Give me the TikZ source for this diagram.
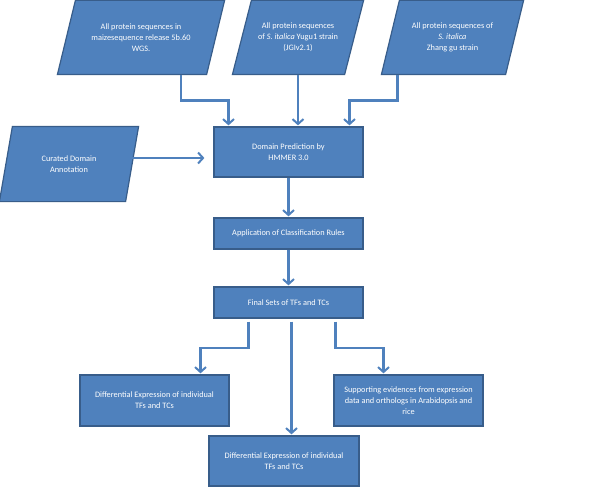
\documentclass[tikz,border=0pt]{standalone}
\usepackage{fontspec}
\setmainfont{Carlito}
\usetikzlibrary{arrows.meta,backgrounds}

\definecolor{boxblue}{HTML}{4F81BD}
\definecolor{boxedge}{HTML}{385D8A}

\tikzset{
  box/.style={rectangle, draw=boxedge, fill=boxblue, line width=1.2pt,
    text=white, align=center, inner sep=2pt, font=\fontsize{8.3}{11}\selectfont},
  inbox/.style={box, draw=none, fill=none},
  slantbox/.style={draw=boxedge, fill=boxblue, line width=1.2pt, line join=miter},
  arr/.style={draw=boxblue, line width=2.2pt, shorten >=1pt,
    -{Straight Barb[length=5pt,width=11pt,line width=2pt]}}
}

\begin{document}
\begin{tikzpicture}[x=1pt,y=-1pt]
            \useasboundingbox (0,0) rectangle (600,487);

            % Inputs (text only, the slanted shapes go on the background)
            \node[inbox, minimum width=148pt, minimum height=73pt] (maize) at (141,37.5)
                {All protein sequences in\\maizesequence release 5b.60\\WGS.};
            \node[inbox, minimum width=111pt, minimum height=73pt] (yugu) at (298,37.5)
                {All protein sequences\\of \textit{S. italica} Yugu1 strain\\(JGIv2.1)};
            \node[inbox, minimum width=123pt, minimum height=73pt] (zhang) at (452.5,37.5)
                {All protein sequences of\\\textit{S. italica}\\Zhang gu strain};
            \node[inbox, minimum width=125pt, minimum height=74pt] (curated) at (69,164)
                {Curated Domain\\Annotation};

            \begin{scope}[on background layer]
              \foreach \n/\s in {maize/9,yugu/9.5,zhang/9,curated/6.5}
                \draw[slantbox] ([xshift=-\s pt]\n.south west) -- ([xshift=-\s pt]\n.south east)
                  -- ([xshift=\s pt]\n.north east) -- ([xshift=\s pt]\n.north west) -- cycle;
            \end{scope}

            % Pipeline
            \node[box, minimum width=149pt, minimum height=50pt] (hmmer) at (288.5,152)
                {Domain Prediction by\\HMMER 3.0};
            \node[box, minimum width=149pt, minimum height=31pt] (rules) at (288.5,233.5)
                {Application of Classification Rules};
            \node[box, minimum width=149pt, minimum height=31pt] (final) at (288.5,302.5)
                {Final Sets of TFs and TCs};

            % Outputs
            \node[box, minimum width=149pt, minimum height=51pt] (diffleft) at (154.5,400.5)
                {Differential Expression of individual\\TFs and TCs};
            \node[box, minimum width=150pt, minimum height=50pt] (diffbottom) at (284,461)
                {Differential Expression of individual\\TFs and TCs};
            \node[box, minimum width=149pt, minimum height=51pt] (support) at (408.5,400.5)
                {Supporting evidences from expression\\data and orthologs in Arabidopsis and\\rice};

            \draw[arr] ([xshift=40pt]maize.south) -- ++(0,26) -| ([xshift=-60pt]hmmer.north);
            \draw[arr] (yugu.south) -- (yugu.south |- hmmer.north);
            \draw[arr] ([xshift=-55pt]zhang.south) -- ++(0,26) -| ([xshift=61pt]hmmer.north);
            \draw[arr, shorten >=9pt] ([yshift=6pt]curated.east) -- ([yshift=6pt]curated.east -| hmmer.west);

            \draw[arr] (hmmer.south) -- (rules.north);
            \draw[arr] (rules.south) -- (final.north);

            \draw[arr] ([xshift=-40pt,yshift=-3pt]final.south) -- ++(0,26) -| ([xshift=46pt]diffleft.north);
            \draw[arr] ([xshift=3pt,yshift=-3pt]final.south) -- ([xshift=3pt]final.south |- diffbottom.north);
            \draw[arr] ([xshift=47pt,yshift=-3pt]final.south) -- ++(0,26) -| ([xshift=-25pt]support.north);
        \end{tikzpicture}
\end{document}
